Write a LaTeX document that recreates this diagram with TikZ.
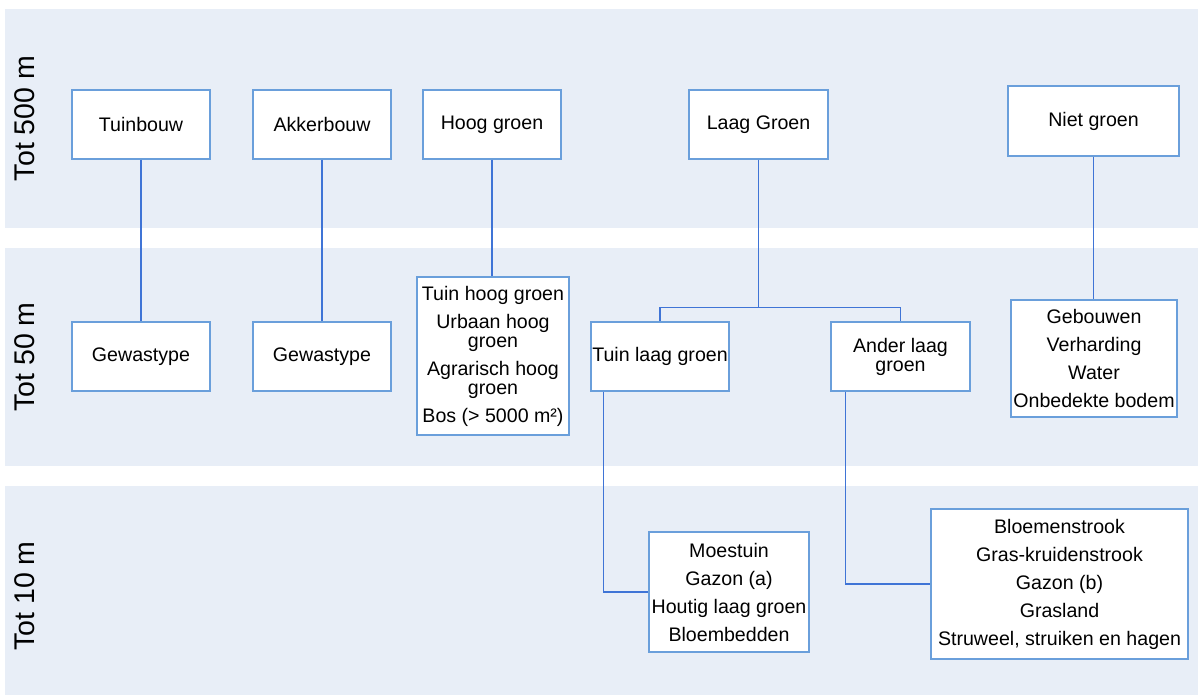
\documentclass[tikz,border=0pt]{standalone}
\usepackage{fontspec}
\setmainfont{Liberation Sans}
\usetikzlibrary{calc}
\definecolor{bandfill}{HTML}{E8EEF7}
\definecolor{boxline}{HTML}{6A9FDB}
\definecolor{linkline}{HTML}{3F74D6}
\begin{document}
\begin{tikzpicture}[x=1pt,y=-1pt,
  band/.style={fill=bandfill,draw=none},
  bandlabel/.style={rotate=90,font=\fontsize{28.5}{30}\selectfont,inner sep=0pt},
  catbox/.style={draw=boxline,line width=1.3pt,fill=white,align=center,
    inner sep=0pt,font=\fontsize{19.6}{28}\selectfont},
  link/.style={draw=linkline,line width=1.5pt}]
\useasboundingbox (0,0) rectangle (1198,695);

% height bands
\fill[band] (5,9) rectangle (1198,228);
\fill[band] (5,248) rectangle (1198,466);
\fill[band] (5,486) rectangle (1198,695);

\node[bandlabel] (l500) at (25,118.5) {Tot 500 m};
\node[bandlabel] (l50) at (25,357) {Tot 50 m};
\node[bandlabel] (l10) at (25,596) {Tot 10 m};

% top level classes
\node[catbox,minimum width=138pt,minimum height=69pt] (tuinbouw) at (141,124.5) {Tuinbouw};
\node[catbox,minimum width=138pt,minimum height=69pt] (akkerbouw) at (322,124.5) {Akkerbouw};
\node[catbox,minimum width=138pt,minimum height=69pt] (hooggroen) at (492,124.5) {Hoog groen};
\node[catbox,minimum width=139pt,minimum height=69pt] (laaggroen) at (758.5,124.5) {Laag Groen};
\node[catbox,minimum width=171pt,minimum height=70pt] (nietgroen) at (1093.5,121) {Niet groen};

% 50 m classes
\node[catbox,minimum width=138pt,minimum height=69pt] (gew1) at (141,356.5) {Gewastype};
\node[catbox,minimum width=138pt,minimum height=69pt] (gew2) at (322,356.5) {Gewastype};
\node[catbox,minimum width=152pt,minimum height=158pt] (hooglist) at (493,356)
  {Tuin hoog groen\\Urbaan hoog\\[-9pt]groen\\Agrarisch hoog\\[-9pt]groen\\Bos (> 5000 m²)};
\node[catbox,minimum width=138pt,minimum height=69pt] (tuinlaag) at (660,356.5) {Tuin laag groen};
\node[catbox,minimum width=139pt,minimum height=69pt] (anderlaag) at (900.5,356.5) {Ander laag\\[-9pt]groen};
\node[catbox,minimum width=166pt,minimum height=117pt] (nietlist) at (1094,358.5)
  {Gebouwen\\Verharding\\Water\\Onbedekte bodem};

% 10 m classes
\node[catbox,minimum width=160pt,minimum height=120pt] (moestuin) at (729,592)
  {Moestuin\\Gazon (a)\\Houtig laag groen\\Bloembedden};
\node[catbox,minimum width=257pt,minimum height=150pt] (bloem) at (1059.5,584)
  {Bloemenstrook\\Gras-kruidenstrook\\Gazon (b)\\Grasland\\Struweel, struiken en hagen};

% connectors
\draw[link] (tuinbouw.south) -- (gew1.north);
\draw[link] (akkerbouw.south) -- (gew2.north);
\draw[link] (hooggroen.south) -- (hooggroen.south |- hooglist.north);
\draw[link] (nietgroen.south) -- (nietgroen.south |- nietlist.north);
\coordinate (split) at ($(laaggroen.south |- tuinlaag.north)+(0,-14)$);
\draw[link] (laaggroen.south) -- (split);
\draw[link] (tuinlaag.north) |- (split) -| (anderlaag.north);
\draw[link] ([xshift=13pt]tuinlaag.south west) |- (moestuin.west);
\draw[link] ([xshift=15pt]anderlaag.south west) |- (bloem.west);
\end{tikzpicture}
\end{document}
